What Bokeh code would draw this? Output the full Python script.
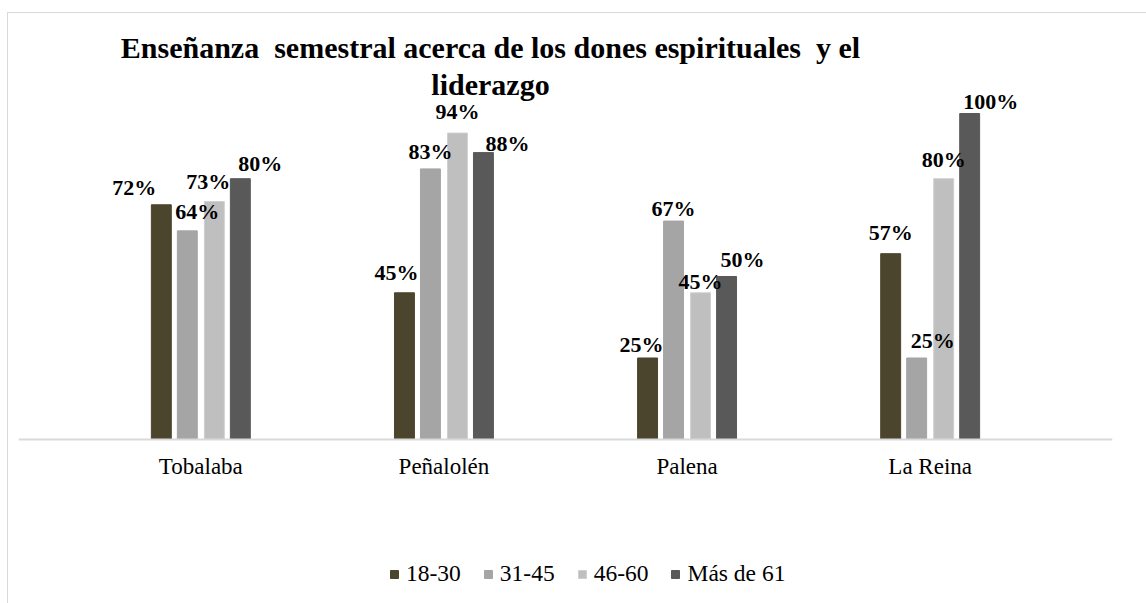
from bokeh.plotting import figure
from bokeh.models import (ColumnDataSource, FactorRange, Range1d, Legend, LegendItem, Label)
from bokeh.transform import dodge
from bokeh.core.properties import value
from bokeh.embed import file_html
from bokeh.resources import INLINE

# ---- data ----
cities = ["Tobalaba", "Peñalolén", "Palena", "La Reina"]
series_names = ["18-30", "31-45", "46-60", "Más de 61"]
s18_30 = [0.72, 0.45, 0.25, 0.57]
s31_45 = [0.64, 0.83, 0.67, 0.25]
s46_60 = [0.73, 0.94, 0.45, 0.80]
s61 = [0.80, 0.88, 0.50, 1.00]
title_lines = ["Enseñanza\u00a0 semestral acerca de los dones espirituales\u00a0 y el", "liderazgo"]

# ---- styling ----
colors = ["#4B452D", "#A5A5A5", "#BFBFBF", "#595959"]
bar_offsets = [-0.1625, -0.0556, 0.0556, 0.1625]
bar_width = 0.082
# label nudges (pixels) per series, per city, as placed in the original
label_dx = [[-27, -8, -6, 0], [10, 0, 0, 16], [-6, 0, 0, 0], [20, 24, 16, 21]]
label_dy = [[-17, -20, -13, -21], [-19, -17, -13, -17], [-20, -22, -11, -19], [-15, -9, -17, -12]]
FONT = "Liberation Serif"

series_values = [s18_30, s31_45, s46_60, s61]

p = figure(
    x_range=FactorRange(factors=cities, range_padding=0.25, range_padding_units="absolute"),
    y_range=Range1d(-0.50307, 1.3067),
    width=1138, height=590,
    frame_width=1094, frame_height=590,
    min_border_left=10, min_border_right=34, min_border_top=0, min_border_bottom=0,
    y_axis_location=None,
    toolbar_location=None, output_backend="svg",
)
p.styles = {"margin-left": "7px", "margin-top": "12px",
            "border-left": "1px solid #d9d9d9", "border-top": "1px solid #d9d9d9"}
p.outline_line_color = None
p.xgrid.grid_line_color = None
p.ygrid.grid_line_color = None
p.background_fill_color = "white"
p.border_fill_color = "white"

items = []
sources = []
for i, (name, vals) in enumerate(zip(series_names, series_values)):
    src = ColumnDataSource(dict(
        city=cities, top=vals,
        label=[f"{round(v * 100)}%" for v in vals],
        dx=label_dx[i], dy=label_dy[i],
    ))
    sources.append(src)
    r = p.vbar(x=dodge("city", bar_offsets[i], range=p.x_range), top="top", width=bar_width,
               source=src, fill_color=colors[i], line_color=colors[i] if i != 2 else "#D0D0D0",
               line_width=1)
    items.append(LegendItem(label=name, renderers=[r]))

for i, src in enumerate(sources):
    p.text(x=dodge("city", bar_offsets[i], range=p.x_range), y="top", text="label",
           x_offset="dx", y_offset="dy", source=src,
           text_font=value(FONT), text_font_style="bold", text_font_size="22px",
           text_align="center", text_baseline="middle", text_color="black")

xa = p.xaxis[0]
xa.fixed_location = 0
xa.axis_line_color = "#D9D9D9"
xa.axis_line_width = 2
xa.major_tick_line_color = None
xa.minor_tick_line_color = None
xa.major_label_text_font = FONT
xa.major_label_text_font_size = "23px"
xa.major_label_text_color = "black"
xa.major_label_standoff = 9

legend = Legend(items=items, orientation="horizontal", location=(371, 16),
                glyph_width=10, glyph_height=10, label_standoff=7, spacing=22,
                padding=0, margin=0, border_line_color=None, background_fill_alpha=0,
                label_text_font=FONT, label_text_font_size="23.5px", label_text_color="black")
p.add_layout(legend, "center")

for txt, yb in zip(title_lines, [556, 519]):
    p.add_layout(Label(x=472, y=yb, x_units="screen", y_units="screen", text=txt,
                       text_font=FONT, text_font_style="bold",
                       text_font_size="30px", text_align="center", text_baseline="alphabetic",
                       text_color="black"))

open("out.html", "w").write(file_html(p, INLINE))
